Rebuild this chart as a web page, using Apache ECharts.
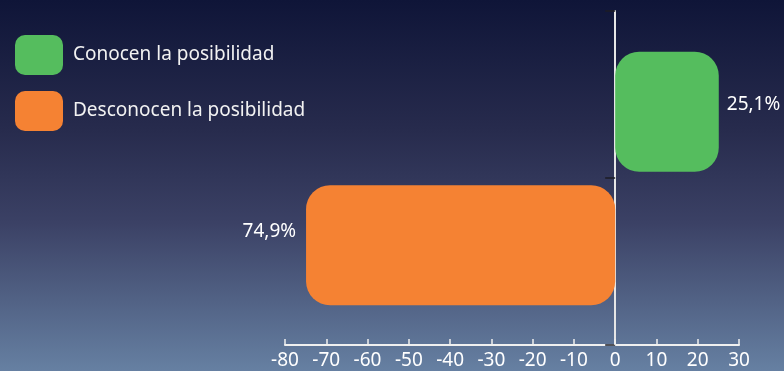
<!DOCTYPE html>
<html lang="es">
<head>
    <meta charset="UTF-8">
    <title>posibilidad</title>
    <script src="https://cdn.jsdelivr.net/npm/echarts@6/dist/echarts.min.js"></script>
    <style>
        * { margin: 0; padding: 0; }
        body { overflow: hidden; }
        #main {
            width: 784px;
            height: 371px;
            background: linear-gradient(to bottom, #0f1538 0%, #272b4d 35%, #3b4165 60%, #6680a2 100%);
        }
    </style>
</head>
<body>
<div id="main"></div>
<script type="text/javascript">
    // categorias (de abajo hacia arriba en el eje)
    var categories = ['Desconocen la posibilidad', 'Conocen la posibilidad'];
    // porcentajes, los "desconocen" van a la izquierda (negativo)
    var conocen = 25.1;
    var desconocen = -74.9;
    var xTicks = [-80, -70, -60, -50, -40, -30, -20, -10, 0, 10, 20, 30];

    var font = '"Noto Sans", sans-serif';

    function pct(v) {
        return Math.abs(v).toFixed(1).replace('.', ',') + '%';
    }

    var myChart = echarts.init(document.getElementById('main'));
    var option = {
        backgroundColor: 'transparent',
        animation: false,
        legend: {
            orient: 'vertical',
            left: 10,
            top: 30,
            itemWidth: 48,
            itemHeight: 40,
            itemGap: 16,
            icon: 'roundRect',
            textStyle: {
                color: '#f2f2f2',
                fontSize: 19,
                fontFamily: font,
                padding: [0, 0, 0, 5]
            },
            data: [categories[1], categories[0]]
        },
        grid: [
            // barras
            { left: 285, right: 45, top: 45, bottom: 59 },
            // linea del cero y eje x
            { left: 285, right: 45, top: 11, bottom: 26 }
        ],
        xAxis: [
            {
                gridIndex: 0,
                type: 'value',
                min: xTicks[0],
                max: xTicks[xTicks.length - 1],
                interval: 10,
                show: false
            },
            {
                gridIndex: 1,
                type: 'value',
                min: xTicks[0],
                max: xTicks[xTicks.length - 1],
                interval: 10,
                splitLine: { show: false },
                axisLine: { onZero: false, lineStyle: { color: '#f0f0f0', width: 2 } },
                axisTick: { inside: true, length: 6, lineStyle: { color: '#f0f0f0', width: 1.5 } },
                axisLabel: {
                    color: '#ffffff',
                    fontSize: 19,
                    fontFamily: font,
                    margin: 6
                }
            }
        ],
        yAxis: [
            {
                gridIndex: 0,
                type: 'category',
                data: categories,
                show: false
            },
            {
                gridIndex: 1,
                type: 'value',
                min: 0,
                max: 2,
                interval: 1,
                splitLine: { show: false },
                axisLabel: { show: false },
                axisLine: { onZero: true, lineStyle: { color: '#e6e6e6', width: 2 } },
                axisTick: { length: 10, lineStyle: { color: '#1c1c24', width: 1.5 } }
            }
        ],
        series: [
            {
                name: categories[1],
                type: 'bar',
                xAxisIndex: 0,
                yAxisIndex: 0,
                barWidth: 120,
                barGap: '-100%',
                data: ['-', conocen],
                itemStyle: { color: '#55bd5e', borderRadius: 24 },
                label: {
                    show: true,
                    position: 'right',
                    distance: 8,
                    offset: [0, -7],
                    color: '#ffffff',
                    fontSize: 19,
                    fontFamily: font,
                    formatter: function (p) { return pct(p.value); }
                }
            },
            {
                name: categories[0],
                type: 'bar',
                xAxisIndex: 0,
                yAxisIndex: 0,
                barWidth: 120,
                barGap: '-100%',
                data: [desconocen, '-'],
                itemStyle: { color: '#f58233', borderRadius: 24 },
                label: {
                    show: true,
                    position: 'left',
                    distance: 10,
                    offset: [0, -14],
                    color: '#ffffff',
                    fontSize: 19,
                    fontFamily: font,
                    formatter: function (p) { return pct(p.value); }
                }
            }
        ]
    };
    myChart.setOption(option);
</script>
</body>
</html>
